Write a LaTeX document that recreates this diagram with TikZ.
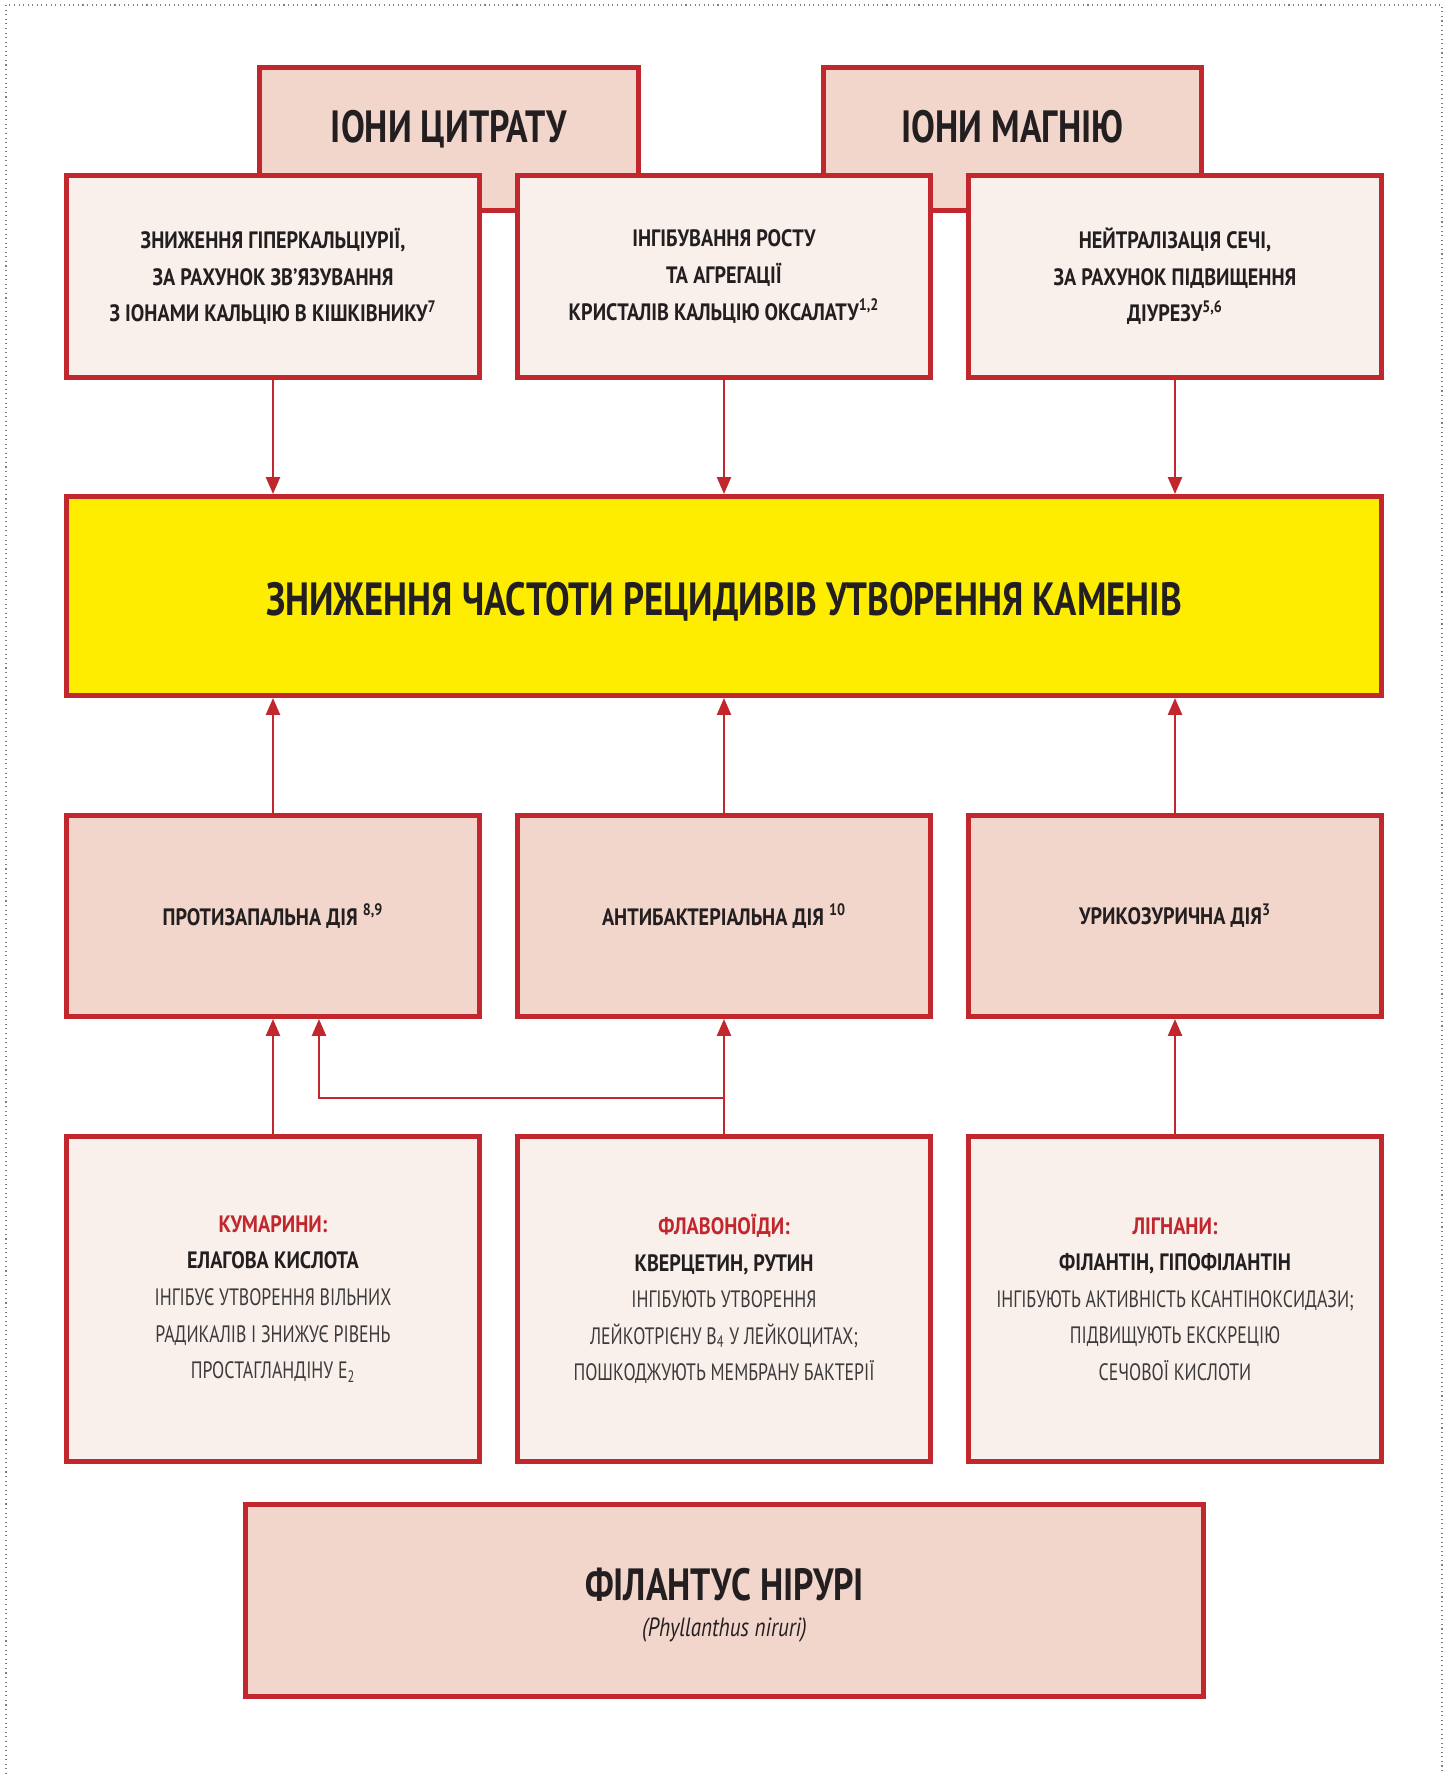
\documentclass[tikz,border=0pt]{standalone}
\usepackage{fontspec}
\setmainfont{PT Sans}[FakeStretch=0.75, BoldFeatures={FakeStretch=0.85}, ItalicFeatures={FakeStretch=0.8}]
\newfontfamily\headfont{PT Sans}[FakeStretch=0.79]
\usetikzlibrary{arrows.meta}
\definecolor{uzred}{HTML}{C1272D}
\definecolor{uzpink}{HTML}{F2D6CB}
\definecolor{uzlight}{HTML}{F9EFEB}
\definecolor{uzyellow}{HTML}{FFED00}
\definecolor{uzink}{HTML}{231F20}
\definecolor{uzgrey}{HTML}{3C3A3B}

\begin{document}
\begin{tikzpicture}[
    x=0.02cm, y=-0.02cm,
    box/.style={draw=uzred, line width=0.1cm, minimum width=8.26cm, inner sep=0pt,
      align=center, text=uzink, font=\fontsize{13.5}{20.8}\selectfont\bfseries},
    effect/.style={box, fill=uzlight, minimum height=4.04cm},
    action/.style={box, fill=uzpink, minimum height=4.02cm},
    source/.style={box, fill=uzlight, minimum height=6.5cm, font=\fontsize{13.5}{20.8}\selectfont},
    tab/.style={draw=uzred, line width=0.1cm, fill=uzpink, minimum width=7.58cm, minimum height=2.86cm},
    title/.style={font=\headfont\fontsize{25.7}{30}\selectfont\bfseries, text=uzink, inner sep=0pt, anchor=base},
    latin/.style={font=\fontsize{15}{17}\selectfont\itshape, text=uzink, inner sep=0pt, anchor=base},
    arr/.style={draw=uzred, line width=0.05cm, -{Triangle[length=0.34cm,width=0.28cm]}}
  ]
  \useasboundingbox (0,0) rectangle (1448,1774);
  \draw[gray, dotted, line width=0.6pt] (6,1774) -- (6,5) -- (1442,5) -- (1442,1774);

  % Ions on top
  \node[tab] (citrate) at (449,139) {};
  \node[title] (citrate-t) at (449,143) {ІОНИ ЦИТРАТУ};
  \node[tab] (magnes) at (1012.5,139) {};
  \node[title] (magnes-t) at (1012.5,143) {ІОНИ МАГНІЮ};

  % Effects of the ions
  \node[effect] (hyper) at (273,276.5) {ЗНИЖЕННЯ ГІПЕРКАЛЬЦІУРІЇ,\\ЗА РАХУНОК ЗВ’ЯЗУВАННЯ\\З ІОНАМИ КАЛЬЦІЮ В КІШКІВНИКУ\textsuperscript{7}};
  \node[effect] (inhib) at (724,276.5) {ІНГІБУВАННЯ РОСТУ\\ТА АГРЕГАЦІЇ\\КРИСТАЛІВ КАЛЬЦІЮ ОКСАЛАТУ\textsuperscript{1,2}};
  \node[effect] (neutr) at (1175,276.5) {НЕЙТРАЛІЗАЦІЯ СЕЧІ,\\ЗА РАХУНОК ПІДВИЩЕННЯ\\ДІУРЕЗУ\textsuperscript{5,6}};

  % Goal
  \node[box, fill=uzyellow, minimum width=26.3cm, minimum height=3.98cm,
    font=\headfont\fontsize{26.5}{30}\selectfont\bfseries, text height=22.5pt, text depth=0pt] (goal) at (724,596)
    {ЗНИЖЕННЯ ЧАСТОТИ РЕЦИДИВІВ УТВОРЕННЯ КАМЕНІВ};

  % Actions of the plant
  \node[action] (inflam) at (273,916) {ПРОТИЗАПАЛЬНА ДІЯ \textsuperscript{8,9}};
  \node[action] (antib) at (724,916) {АНТИБАКТЕРІАЛЬНА ДІЯ \textsuperscript{10}};
  \node[action] (urico) at (1175,916) {УРИКОЗУРИЧНА ДІЯ\textsuperscript{3}};

  % Active compounds
  \node[source] (coum) at (273,1299) {\textcolor{uzred}{\bfseries КУМАРИНИ:}\\
    \textbf{ЕЛАГОВА КИСЛОТА}\\
    \textcolor{uzgrey}{ІНГІБУЄ УТВОРЕННЯ ВІЛЬНИХ}\\
    \textcolor{uzgrey}{РАДИКАЛІВ І ЗНИЖУЄ РІВЕНЬ}\\
    \textcolor{uzgrey}{ПРОСТАГЛАНДІНУ Е\textsubscript{2}}};
  \node[source] (flav) at (724,1299) {\textcolor{uzred}{\bfseries ФЛАВОНОЇДИ:}\\
    \textbf{КВЕРЦЕТИН, РУТИН}\\
    \textcolor{uzgrey}{ІНГІБУЮТЬ УТВОРЕННЯ}\\
    \textcolor{uzgrey}{ЛЕЙКОТРІЄНУ В\textsubscript{4} У ЛЕЙКОЦИТАХ;}\\
    \textcolor{uzgrey}{ПОШКОДЖУЮТЬ МЕМБРАНУ БАКТЕРІЇ}};
  \node[source] (lign) at (1175,1299) {\textcolor{uzred}{\bfseries ЛІГНАНИ:}\\
    \textbf{ФІЛАНТІН, ГІПОФІЛАНТІН}\\
    \textcolor{uzgrey}{ІНГІБУЮТЬ АКТИВНІСТЬ КСАНТІНОКСИДАЗИ;}\\
    \textcolor{uzgrey}{ПІДВИЩУЮТЬ ЕКСКРЕЦІЮ}\\
    \textcolor{uzgrey}{СЕЧОВОЇ КИСЛОТИ}};

  % Plant
  \node[box, fill=uzpink, minimum width=19.16cm, minimum height=3.84cm] (plant) at (724.5,1600.5) {};
  \node[title] (plant-t) at (724.5,1600) {ФІЛАНТУС НІРУРІ};
  \node[latin] (plant-l) at (724.5,1636) {(Phyllanthus niruri)};

  % Effects lead to the goal
  \foreach \n in {hyper,inhib,neutr}
    \draw[arr] (\n.south) -- (\n.south |- goal.north);

  % Actions lead to the goal
  \foreach \n in {inflam,antib,urico}
    \draw[arr] (\n.north) -- (\n.north |- goal.south);

  % Compounds lead to the actions
  \draw[arr] (coum.north) -- (inflam.south);
  \draw[arr] (flav.north) -- (antib.south);
  \draw[arr] (lign.north) -- (urico.south);
  \coordinate (fork) at (724,1098);
  \draw[arr] (fork) -| ([xshift=0.92cm]inflam.south);
\end{tikzpicture}
\end{document}
